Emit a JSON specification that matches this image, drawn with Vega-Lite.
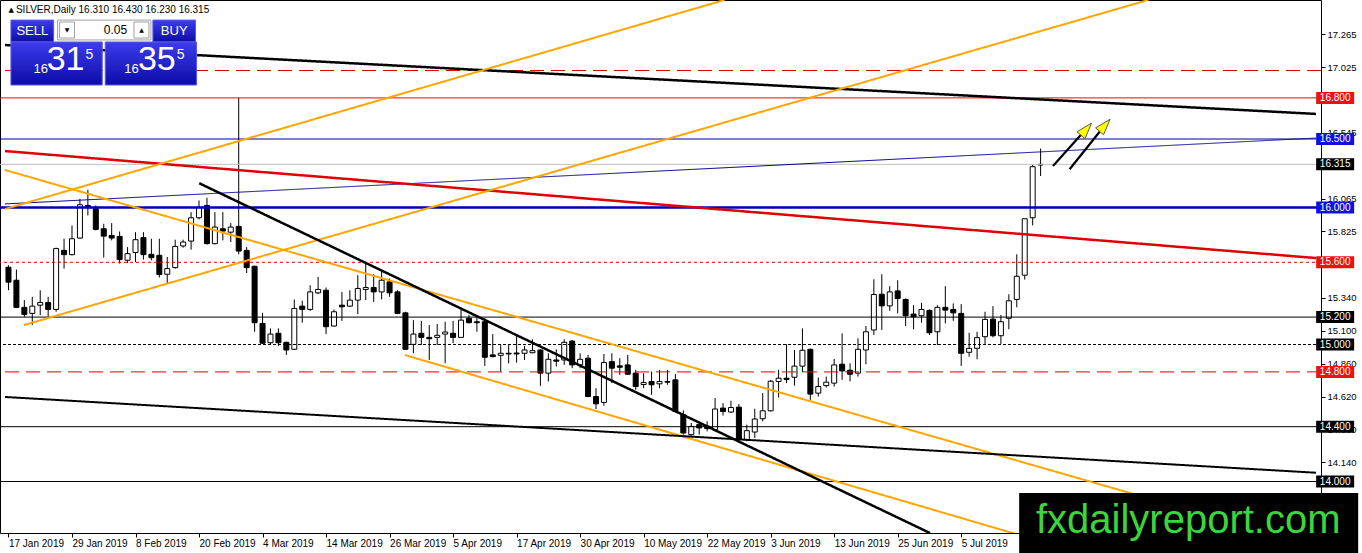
{
  "$schema": "https://vega.github.io/schema/vega-lite/v6.json",
  "width": 1321,
  "height": 533,
  "autosize": "none",
  "padding": {"left": 0, "top": 0, "right": 41, "bottom": 20},
  "background": "white",
  "config": {"view": {"stroke": "black", "strokeWidth": 1}, "font": "Liberation Sans",
             "axis": {"labelOverlap": false}, "axisY": {"labelOverlap": false}, "axisRight": {"labelOverlap": false}},
  "datasets": {
    "candles": [
      {"i":0,"o":15.564,"h":15.578,"l":15.396,"c":15.455},
      {"i":1,"o":15.469,"h":15.547,"l":15.266,"c":15.271},
      {"i":2,"o":15.271,"h":15.324,"l":15.202,"c":15.220},
      {"i":3,"o":15.227,"h":15.348,"l":15.142,"c":15.280},
      {"i":4,"o":15.287,"h":15.396,"l":15.215,"c":15.307},
      {"i":5,"o":15.307,"h":15.348,"l":15.202,"c":15.256},
      {"i":6,"o":15.256,"h":15.707,"l":15.239,"c":15.700},
      {"i":7,"o":15.687,"h":15.772,"l":15.554,"c":15.656},
      {"i":8,"o":15.656,"h":15.869,"l":15.650,"c":15.772},
      {"i":9,"o":15.777,"h":16.063,"l":15.772,"c":16.020},
      {"i":10,"o":16.015,"h":16.129,"l":15.942,"c":15.998},
      {"i":11,"o":15.991,"h":16.015,"l":15.833,"c":15.840},
      {"i":12,"o":15.845,"h":15.881,"l":15.634,"c":15.791},
      {"i":13,"o":15.796,"h":15.886,"l":15.760,"c":15.777},
      {"i":14,"o":15.789,"h":15.825,"l":15.591,"c":15.620},
      {"i":15,"o":15.615,"h":15.711,"l":15.595,"c":15.663},
      {"i":16,"o":15.671,"h":15.820,"l":15.602,"c":15.765},
      {"i":17,"o":15.780,"h":15.820,"l":15.620,"c":15.656},
      {"i":18,"o":15.658,"h":15.772,"l":15.615,"c":15.634},
      {"i":19,"o":15.651,"h":15.772,"l":15.489,"c":15.511},
      {"i":20,"o":15.513,"h":15.639,"l":15.445,"c":15.554},
      {"i":21,"o":15.561,"h":15.765,"l":15.554,"c":15.716},
      {"i":22,"o":15.719,"h":15.765,"l":15.707,"c":15.748},
      {"i":23,"o":15.755,"h":15.966,"l":15.692,"c":15.925},
      {"i":24,"o":15.925,"h":16.051,"l":15.913,"c":16.002},
      {"i":25,"o":16.015,"h":16.071,"l":15.730,"c":15.736},
      {"i":26,"o":15.736,"h":15.966,"l":15.731,"c":15.857},
      {"i":27,"o":15.845,"h":15.966,"l":15.760,"c":15.828},
      {"i":28,"o":15.820,"h":15.886,"l":15.748,"c":15.857},
      {"i":29,"o":15.862,"h":16.800,"l":15.658,"c":15.682},
      {"i":30,"o":15.687,"h":15.711,"l":15.522,"c":15.561},
      {"i":31,"o":15.571,"h":15.575,"l":15.093,"c":15.159},
      {"i":32,"o":15.154,"h":15.231,"l":15.005,"c":15.009},
      {"i":33,"o":15.013,"h":15.118,"l":14.996,"c":15.076},
      {"i":34,"o":15.082,"h":15.118,"l":14.989,"c":15.013},
      {"i":35,"o":15.016,"h":15.020,"l":14.924,"c":14.960},
      {"i":36,"o":14.965,"h":15.329,"l":14.960,"c":15.263},
      {"i":37,"o":15.280,"h":15.319,"l":15.159,"c":15.256},
      {"i":38,"o":15.256,"h":15.433,"l":15.246,"c":15.384},
      {"i":39,"o":15.377,"h":15.493,"l":15.367,"c":15.402},
      {"i":40,"o":15.396,"h":15.416,"l":15.076,"c":15.130},
      {"i":41,"o":15.135,"h":15.256,"l":15.130,"c":15.239},
      {"i":42,"o":15.287,"h":15.384,"l":15.173,"c":15.275},
      {"i":43,"o":15.280,"h":15.396,"l":15.275,"c":15.324},
      {"i":44,"o":15.324,"h":15.506,"l":15.222,"c":15.409},
      {"i":45,"o":15.402,"h":15.591,"l":15.324,"c":15.416},
      {"i":46,"o":15.416,"h":15.513,"l":15.311,"c":15.384},
      {"i":47,"o":15.384,"h":15.542,"l":15.329,"c":15.469},
      {"i":48,"o":15.457,"h":15.481,"l":15.348,"c":15.377},
      {"i":49,"o":15.384,"h":15.396,"l":15.222,"c":15.227},
      {"i":50,"o":15.231,"h":15.239,"l":14.960,"c":14.965},
      {"i":51,"o":15.001,"h":15.178,"l":14.936,"c":15.076},
      {"i":52,"o":15.082,"h":15.173,"l":14.996,"c":15.052},
      {"i":53,"o":15.052,"h":15.142,"l":14.887,"c":15.042},
      {"i":54,"o":15.052,"h":15.149,"l":14.996,"c":15.067},
      {"i":55,"o":15.076,"h":15.166,"l":14.863,"c":15.091},
      {"i":56,"o":15.082,"h":15.173,"l":15.009,"c":15.052},
      {"i":57,"o":15.052,"h":15.256,"l":15.048,"c":15.178},
      {"i":58,"o":15.191,"h":15.215,"l":15.154,"c":15.159},
      {"i":59,"o":15.166,"h":15.202,"l":15.093,"c":15.159},
      {"i":60,"o":15.166,"h":15.191,"l":14.844,"c":14.907},
      {"i":61,"o":14.924,"h":15.076,"l":14.908,"c":14.911},
      {"i":62,"o":14.921,"h":14.996,"l":14.802,"c":14.936},
      {"i":63,"o":14.936,"h":14.996,"l":14.863,"c":14.931},
      {"i":64,"o":14.938,"h":15.062,"l":14.868,"c":14.931},
      {"i":65,"o":14.936,"h":14.989,"l":14.887,"c":14.960},
      {"i":66,"o":14.940,"h":15.038,"l":14.936,"c":14.955},
      {"i":67,"o":14.960,"h":14.965,"l":14.698,"c":14.791},
      {"i":68,"o":14.791,"h":14.936,"l":14.730,"c":14.892},
      {"i":69,"o":14.887,"h":14.965,"l":14.839,"c":14.878},
      {"i":70,"o":14.887,"h":15.038,"l":14.851,"c":15.016},
      {"i":71,"o":15.025,"h":15.033,"l":14.827,"c":14.851},
      {"i":72,"o":14.851,"h":14.936,"l":14.827,"c":14.892},
      {"i":73,"o":14.900,"h":14.924,"l":14.616,"c":14.620},
      {"i":74,"o":14.620,"h":14.681,"l":14.529,"c":14.567},
      {"i":75,"o":14.577,"h":14.931,"l":14.553,"c":14.868},
      {"i":76,"o":14.875,"h":14.936,"l":14.718,"c":14.827},
      {"i":77,"o":14.844,"h":14.900,"l":14.778,"c":14.834},
      {"i":78,"o":14.851,"h":14.924,"l":14.778,"c":14.783},
      {"i":79,"o":14.791,"h":14.815,"l":14.669,"c":14.693},
      {"i":80,"o":14.708,"h":14.791,"l":14.681,"c":14.722},
      {"i":81,"o":14.730,"h":14.802,"l":14.633,"c":14.706},
      {"i":82,"o":14.713,"h":14.815,"l":14.681,"c":14.730},
      {"i":83,"o":14.730,"h":14.815,"l":14.706,"c":14.725},
      {"i":84,"o":14.742,"h":14.785,"l":14.504,"c":14.511},
      {"i":85,"o":14.487,"h":14.519,"l":14.342,"c":14.354},
      {"i":86,"o":14.342,"h":14.427,"l":14.335,"c":14.402},
      {"i":87,"o":14.415,"h":14.431,"l":14.342,"c":14.391},
      {"i":88,"o":14.405,"h":14.439,"l":14.366,"c":14.386},
      {"i":89,"o":14.378,"h":14.609,"l":14.366,"c":14.529},
      {"i":90,"o":14.536,"h":14.572,"l":14.482,"c":14.511},
      {"i":91,"o":14.507,"h":14.589,"l":14.500,"c":14.540},
      {"i":92,"o":14.543,"h":14.565,"l":14.282,"c":14.306},
      {"i":93,"o":14.306,"h":14.415,"l":14.293,"c":14.371},
      {"i":94,"o":14.361,"h":14.531,"l":14.318,"c":14.456},
      {"i":95,"o":14.458,"h":14.645,"l":14.439,"c":14.516},
      {"i":96,"o":14.516,"h":14.742,"l":14.511,"c":14.732},
      {"i":97,"o":14.730,"h":14.815,"l":14.613,"c":14.754},
      {"i":98,"o":14.754,"h":15.002,"l":14.718,"c":14.744},
      {"i":99,"o":14.761,"h":14.960,"l":14.700,"c":14.842},
      {"i":100,"o":14.842,"h":15.118,"l":14.798,"c":14.958},
      {"i":101,"o":14.965,"h":14.970,"l":14.596,"c":14.638},
      {"i":102,"o":14.645,"h":14.759,"l":14.620,"c":14.693},
      {"i":103,"o":14.700,"h":14.766,"l":14.686,"c":14.725},
      {"i":104,"o":14.718,"h":14.895,"l":14.693,"c":14.851},
      {"i":105,"o":14.856,"h":15.081,"l":14.742,"c":14.807},
      {"i":106,"o":14.812,"h":14.863,"l":14.730,"c":14.783},
      {"i":107,"o":14.791,"h":15.045,"l":14.766,"c":14.965},
      {"i":108,"o":14.960,"h":15.135,"l":14.856,"c":15.093},
      {"i":109,"o":15.106,"h":15.476,"l":15.069,"c":15.365},
      {"i":110,"o":15.367,"h":15.513,"l":15.106,"c":15.282},
      {"i":111,"o":15.282,"h":15.426,"l":15.246,"c":15.384},
      {"i":112,"o":15.391,"h":15.469,"l":15.227,"c":15.336},
      {"i":113,"o":15.329,"h":15.336,"l":15.135,"c":15.210},
      {"i":114,"o":15.222,"h":15.287,"l":15.111,"c":15.202},
      {"i":115,"o":15.210,"h":15.304,"l":15.159,"c":15.256},
      {"i":116,"o":15.249,"h":15.256,"l":15.069,"c":15.086},
      {"i":117,"o":15.093,"h":15.287,"l":14.996,"c":15.271},
      {"i":118,"o":15.271,"h":15.426,"l":15.154,"c":15.251},
      {"i":119,"o":15.256,"h":15.300,"l":15.173,"c":15.231},
      {"i":120,"o":15.227,"h":15.295,"l":14.844,"c":14.936},
      {"i":121,"o":14.943,"h":15.086,"l":14.911,"c":14.972},
      {"i":122,"o":14.972,"h":15.093,"l":14.892,"c":15.050},
      {"i":123,"o":15.057,"h":15.239,"l":14.996,"c":15.183},
      {"i":124,"o":15.185,"h":15.280,"l":15.052,"c":15.064},
      {"i":125,"o":15.064,"h":15.215,"l":15.004,"c":15.166},
      {"i":126,"o":15.191,"h":15.367,"l":15.111,"c":15.319},
      {"i":127,"o":15.329,"h":15.658,"l":15.271,"c":15.498},
      {"i":128,"o":15.506,"h":15.918,"l":15.474,"c":15.918},
      {"i":129,"o":15.925,"h":16.313,"l":15.869,"c":16.298},
      {"i":130,"o":16.310,"h":16.430,"l":16.230,"c":16.315}
    ],
    "levels": [
      {"p":17.0,"k":"red_ld"},
      {"p":16.8,"k":"red"},
      {"p":16.5,"k":"blue_thin"},
      {"p":16.315,"k":"gray"},
      {"p":16.0,"k":"blue_thick"},
      {"p":15.6,"k":"red_dot"},
      {"p":15.2,"k":"black"},
      {"p":15.0,"k":"black_dot"},
      {"p":14.8,"k":"red_ld"},
      {"p":14.4,"k":"black"},
      {"p":14.0,"k":"black"}
    ],
    "trends": [
      {"k":"black_trend","i1":-0.4375,"p1":17.186,"i2":164.6875,"p2":16.683},
      {"k":"blue_thin","i1":-0.4375,"p1":16.026,"i2":164.6875,"p2":16.507},
      {"k":"red_trend","i1":-0.4375,"p1":16.412,"i2":164.6875,"p2":15.631},
      {"k":"orange","i1":-0.4375,"p1":15.989,"i2":90.19,"p2":17.515},
      {"k":"orange","i1":1.94,"p1":15.142,"i2":143.56,"p2":17.515},
      {"k":"orange","i1":-0.4375,"p1":16.274,"i2":164.6875,"p2":13.526},
      {"k":"orange","i1":49.94,"p1":14.923,"i2":164.6875,"p2":12.975},
      {"k":"black_trend","i1":24.03,"p1":16.177,"i2":116.06,"p2":13.624},
      {"k":"black_trend2","i1":-0.4375,"p1":14.617,"i2":164.6875,"p2":14.064}
    ],
    "arrows": [
      {"i1":131.56,"p1":16.303,"i2":135.06,"p2":16.529,"hi":135.75,"hp":16.5715},
      {"i1":133.65,"p1":16.279,"i2":137.44,"p2":16.553,"hi":138.09,"hp":16.600}
    ],
    "boxes": [
      {"p":16.8,"k":"box_red"},
      {"p":16.5,"k":"box_blue"},
      {"p":16.315,"k":"box_black"},
      {"p":16.0,"k":"box_blue"},
      {"p":15.6,"k":"box_red"},
      {"p":15.2,"k":"box_black"},
      {"p":15.0,"k":"box_black"},
      {"p":14.8,"k":"box_red"},
      {"p":14.4,"k":"box_black"},
      {"p":14.0,"k":"box_black"}
    ],
    "pblue": [
      {"n":"sell","i1":0.31,"i2":5.69,"p1":17.368,"p2":17.208},
      {"n":"buy","i1":18.19,"i2":23.56,"p1":17.368,"p2":17.208},
      {"n":"bid","i1":0.31,"i2":11.81,"p1":17.208,"p2":16.894},
      {"n":"ask","i1":12.19,"i2":23.69,"p1":17.208,"p2":16.894}
    ],
    "pwhite": [
      {"n":"lot","i1":6.19,"i2":17.94,"p1":17.368,"p2":17.223},
      {"n":"down","i1":6.44,"i2":8.31,"p1":17.354,"p2":17.237},
      {"n":"up","i1":15.81,"i2":17.69,"p1":17.354,"p2":17.237}
    ],
    "ptext": [
      {"t":"SELL","i":3.0,"p":17.288,"g":"btn"},
      {"t":"BUY","i":20.875,"p":17.288,"g":"btn"},
      {"t":"0.05","i":14.94,"p":17.296,"g":"qty"},
      {"t":"▼","i":7.375,"p":17.296,"g":"arr"},
      {"t":"▲","i":16.75,"p":17.296,"g":"arr"},
      {"t":"16","i":4.06,"p":17.011,"g":"small"},
      {"t":"31","i":7.19,"p":17.077,"g":"big"},
      {"t":"5","i":10.19,"p":17.113,"g":"sup"},
      {"t":"16","i":15.5,"p":17.011,"g":"small"},
      {"t":"35","i":18.69,"p":17.077,"g":"big"},
      {"t":"5","i":21.69,"p":17.113,"g":"sup"},
      {"t":"SILVER,Daily  16.310 16.430 16.230 16.315","i":0.94,"p":17.438,"g":"hdr"},
      {"t":"▲","i":0.35,"p":17.438,"g":"hdrtri"}
    ],
    "wm": [
      {"i1":127.3,"i2":170,"p1":13.916,"p2":13.40,"t":"fxdailyreport.com","ti":148.6,"tp":13.712}
    ]
  },
  "layer": [
    {
      "data": {"name": "candles"},
      "mark": {"type": "rule", "color": "black", "strokeWidth": 1},
      "encoding": {
        "x": {"field": "i", "type": "quantitative", "title": null,
              "scale": {"domain": [-0.4375, 164.6875], "nice": false, "zero": false},
              "axis": {"orient": "bottom", "values": [0,8,16,24,32,40,48,56,64,72,80,88,96,104,112,120],
                       "labelExpr": "['17 Jan 2019','29 Jan 2019','8 Feb 2019','20 Feb 2019','4 Mar 2019','14 Mar 2019','26 Mar 2019','5 Apr 2019','17 Apr 2019','30 Apr 2019','10 May 2019','22 May 2019','3 Jun 2019','13 Jun 2019','25 Jun 2019','5 Jul 2019'][round(datum.value/8)]",
                       "title": null, "grid": false, "domain": false, "tickSize": 4, "tickColor": "black",
                       "labelAlign": "left", "labelBaseline": "top", "labelPadding": 1, "labelFlush": false,
                       "labelOverlap": false, "labelBound": false, "labelFontSize": 10, "labelColor": "black",
                       "labelFont": "Liberation Sans", "labelDx": 1}},
        "y": {"field": "l", "type": "quantitative", "title": null,
              "scale": {"domain": [13.6241, 17.5146], "nice": false, "zero": false},
              "axis": {"orient": "right", "values": [17.265,17.025,16.545,16.065,15.825,15.34,15.1,14.86,14.62,14.38,14.14,13.9],
                       "format": ".3f", "title": null, "grid": false, "domain": false, "tickSize": 4,
                       "tickColor": "black", "labelColor": "black", "labelFontSize": 9.5,
                       "labelFont": "Liberation Sans", "labelPadding": 2, "labelBaseline": "middle",
                       "labelOverlap": false, "labelFlush": false, "labelBound": false, "labelSeparation": 0}},
        "y2": {"field": "h"}
      }
    },
    {
      "data": {"name": "candles"},
      "mark": {"type": "bar", "width": 5, "stroke": "black", "strokeWidth": 1},
      "encoding": {
        "x": {"field": "i", "type": "quantitative", "title": null},
        "y": {"field": "o", "type": "quantitative", "title": null},
        "y2": {"field": "c"},
        "fill": {"condition": {"test": "datum.c >= datum.o", "value": "#ffffff"}, "value": "#000000"}
      }
    },
    {
      "data": {"name": "levels"},
      "mark": {"type": "rule"},
      "encoding": {
        "y": {"field": "p", "type": "quantitative", "title": null},
        "color": {"field": "k", "type": "nominal", "legend": null,
                  "scale": {"domain": ["red","red_ld","red_dot","blue_thin","blue_thick","gray","black","black_dot","black_trend","black_trend2","red_trend","orange","box_red","box_blue","box_black"],
                            "range": ["#ff0000","#e00000","#e00000","#00008b","#0000b4","#c0c0c0","#000000","#000000","#000000","#000000","#e00000","#ffa500","#f01010","#1010e0","#000000"]}},
        "strokeWidth": {"field": "k", "type": "ordinal", "legend": null,
                 "scale": {"type": "ordinal", "domain": ["red","red_ld","red_dot","blue_thin","blue_thick","gray","black","black_dot","black_trend","black_trend2","red_trend","orange"],
                           "range": [1,1,1,1,2.5,1,1,1,2.5,2,2.5,2]}},
        "strokeDash": {"field": "k", "type": "nominal", "legend": null,
                       "scale": {"domain": ["red","red_ld","red_dot","blue_thin","blue_thick","gray","black","black_dot","black_trend","black_trend2","red_trend","orange"],
                                 "range": [[1,0],[14,7],[3,3],[1,0],[1,0],[1,0],[1,0],[3,2],[1,0],[1,0],[1,0],[1,0]]}}
      }
    },
    {
      "data": {"name": "trends"},
      "mark": {"type": "rule", "clip": true},
      "encoding": {
        "x": {"field": "i1", "type": "quantitative", "title": null},
        "x2": {"field": "i2"},
        "y": {"field": "p1", "type": "quantitative", "title": null},
        "y2": {"field": "p2"},
        "color": {"field": "k", "type": "nominal", "legend": null,
                  "scale": {"domain": ["red","red_ld","red_dot","blue_thin","blue_thick","gray","black","black_dot","black_trend","black_trend2","red_trend","orange","box_red","box_blue","box_black"],
                            "range": ["#ff0000","#e00000","#e00000","#00008b","#0000b4","#c0c0c0","#000000","#000000","#000000","#000000","#e00000","#ffa500","#f01010","#1010e0","#000000"]}},
        "strokeWidth": {"field": "k", "type": "ordinal", "legend": null,
                 "scale": {"type": "ordinal", "domain": ["red","red_ld","red_dot","blue_thin","blue_thick","gray","black","black_dot","black_trend","black_trend2","red_trend","orange"],
                           "range": [1,1,1,1,2.5,1,1,1,2.5,2,2.5,2]}},
        "strokeDash": {"field": "k", "type": "nominal", "legend": null,
                       "scale": {"domain": ["red","red_ld","red_dot","blue_thin","blue_thick","gray","black","black_dot","black_trend","black_trend2","red_trend","orange"],
                                 "range": [[1,0],[14,7],[3,3],[1,0],[1,0],[1,0],[1,0],[3,2],[1,0],[1,0],[1,0],[1,0]]}}
      }
    },
    {
      "data": {"name": "arrows"},
      "mark": {"type": "rule", "color": "black", "strokeWidth": 2.2},
      "encoding": {
        "x": {"field": "i1", "type": "quantitative", "title": null},
        "x2": {"field": "i2"},
        "y": {"field": "p1", "type": "quantitative", "title": null},
        "y2": {"field": "p2"}
      }
    },
    {
      "data": {"name": "arrows"},
      "mark": {"type": "point", "shape": "M0,-1L0.66,1L-0.66,1Z", "size": 256, "filled": true, "fill": "#ffff00",
               "stroke": "#404040", "strokeWidth": 0.8, "angle": 41, "opacity": 1},
      "encoding": {
        "x": {"field": "hi", "type": "quantitative", "title": null},
        "y": {"field": "hp", "type": "quantitative", "title": null}
      }
    },
    {
      "data": {"name": "boxes"},
      "mark": {"type": "tick", "orient": "horizontal", "size": 38, "thickness": 12, "clip": false, "opacity": 1},
      "encoding": {
        "x": {"datum": 167.1, "type": "quantitative", "title": null},
        "y": {"field": "p", "type": "quantitative", "title": null},
        "color": {"field": "k", "type": "nominal", "legend": null,
                  "scale": {"domain": ["red","red_ld","red_dot","blue_thin","blue_thick","gray","black","black_dot","black_trend","black_trend2","red_trend","orange","box_red","box_blue","box_black"],
                            "range": ["#ff0000","#e00000","#e00000","#00008b","#0000b4","#c0c0c0","#000000","#000000","#000000","#000000","#e00000","#ffa500","#f01010","#1010e0","#000000"]}}
      }
    },
    {
      "data": {"name": "boxes"},
      "mark": {"type": "text", "color": "white", "fontSize": 10, "align": "center", "baseline": "middle", "clip": false, "font": "Liberation Sans"},
      "encoding": {
        "x": {"datum": 167.1, "type": "quantitative", "title": null},
        "y": {"field": "p", "type": "quantitative", "title": null},
        "text": {"field": "p", "format": ".3f"}
      }
    },
    {
      "data": {"name": "pblue"},
      "mark": {"type": "rect", "stroke": "#5a5ae8", "strokeWidth": 1,
               "fill": {"gradient": "linear", "x1": 0, "y1": 0, "x2": 0, "y2": 1,
                        "stops": [{"offset": 0, "color": "#3c3cec"}, {"offset": 1, "color": "#0c0ca8"}]}},
      "encoding": {
        "x": {"field": "i1", "type": "quantitative", "title": null},
        "x2": {"field": "i2"},
        "y": {"field": "p1", "type": "quantitative", "title": null},
        "y2": {"field": "p2"}
      }
    },
    {
      "data": {"name": "pwhite"},
      "mark": {"type": "rect", "fill": "#ffffff", "stroke": "#a0a0a0", "strokeWidth": 1},
      "encoding": {
        "x": {"field": "i1", "type": "quantitative", "title": null},
        "x2": {"field": "i2"},
        "y": {"field": "p1", "type": "quantitative", "title": null},
        "y2": {"field": "p2"}
      }
    },
    {
      "data": {"name": "ptext"},
      "transform": [{"filter": "datum.g == 'btn'"}],
      "mark": {"type": "text", "color": "white", "fontSize": 13, "align": "center", "baseline": "middle", "font": "Liberation Sans"},
      "encoding": {"x": {"field": "i", "type": "quantitative", "title": null}, "y": {"field": "p", "type": "quantitative", "title": null}, "text": {"field": "t"}}
    },
    {
      "data": {"name": "ptext"},
      "transform": [{"filter": "datum.g == 'qty'"}],
      "mark": {"type": "text", "color": "black", "fontSize": 12, "align": "right", "baseline": "middle", "font": "Liberation Sans"},
      "encoding": {"x": {"field": "i", "type": "quantitative", "title": null}, "y": {"field": "p", "type": "quantitative", "title": null}, "text": {"field": "t"}}
    },
    {
      "data": {"name": "ptext"},
      "transform": [{"filter": "datum.g == 'arr'"}],
      "mark": {"type": "text", "color": "black", "fontSize": 6, "align": "center", "baseline": "middle", "font": "DejaVu Sans"},
      "encoding": {"x": {"field": "i", "type": "quantitative", "title": null}, "y": {"field": "p", "type": "quantitative", "title": null}, "text": {"field": "t"}}
    },
    {
      "data": {"name": "ptext"},
      "transform": [{"filter": "datum.g == 'small'"}],
      "mark": {"type": "text", "color": "white", "fontSize": 13, "align": "center", "baseline": "middle", "font": "Liberation Sans"},
      "encoding": {"x": {"field": "i", "type": "quantitative", "title": null}, "y": {"field": "p", "type": "quantitative", "title": null}, "text": {"field": "t"}}
    },
    {
      "data": {"name": "ptext"},
      "transform": [{"filter": "datum.g == 'big'"}],
      "mark": {"type": "text", "color": "white", "fontSize": 34, "align": "center", "baseline": "middle", "font": "Liberation Sans Narrow, Liberation Sans"},
      "encoding": {"x": {"field": "i", "type": "quantitative", "title": null}, "y": {"field": "p", "type": "quantitative", "title": null}, "text": {"field": "t"}}
    },
    {
      "data": {"name": "ptext"},
      "transform": [{"filter": "datum.g == 'sup'"}],
      "mark": {"type": "text", "color": "white", "fontSize": 14, "align": "center", "baseline": "middle", "font": "Liberation Sans"},
      "encoding": {"x": {"field": "i", "type": "quantitative", "title": null}, "y": {"field": "p", "type": "quantitative", "title": null}, "text": {"field": "t"}}
    },
    {
      "data": {"name": "ptext"},
      "transform": [{"filter": "datum.g == 'hdr'"}],
      "mark": {"type": "text", "color": "black", "fontSize": 10, "align": "left", "baseline": "middle", "font": "Liberation Sans"},
      "encoding": {"x": {"field": "i", "type": "quantitative", "title": null}, "y": {"field": "p", "type": "quantitative", "title": null}, "text": {"field": "t"}}
    },
    {
      "data": {"name": "ptext"},
      "transform": [{"filter": "datum.g == 'hdrtri'"}],
      "mark": {"type": "text", "color": "black", "fontSize": 7, "align": "center", "baseline": "middle", "font": "DejaVu Sans"},
      "encoding": {"x": {"field": "i", "type": "quantitative", "title": null}, "y": {"field": "p", "type": "quantitative", "title": null}, "text": {"field": "t"}}
    },
    {
      "data": {"name": "wm"},
      "mark": {"type": "rect", "fill": "#000000", "clip": false},
      "encoding": {
        "x": {"field": "i1", "type": "quantitative", "title": null},
        "x2": {"field": "i2"},
        "y": {"field": "p1", "type": "quantitative", "title": null},
        "y2": {"field": "p2"}
      }
    },
    {
      "data": {"name": "wm"},
      "mark": {"type": "text", "color": "#3cd63c", "fontSize": 40, "align": "center", "baseline": "middle", "clip": false, "font": "Liberation Sans"},
      "encoding": {
        "x": {"field": "ti", "type": "quantitative", "title": null},
        "y": {"field": "tp", "type": "quantitative", "title": null},
        "text": {"field": "t"}
      }
    }
  ]
}
